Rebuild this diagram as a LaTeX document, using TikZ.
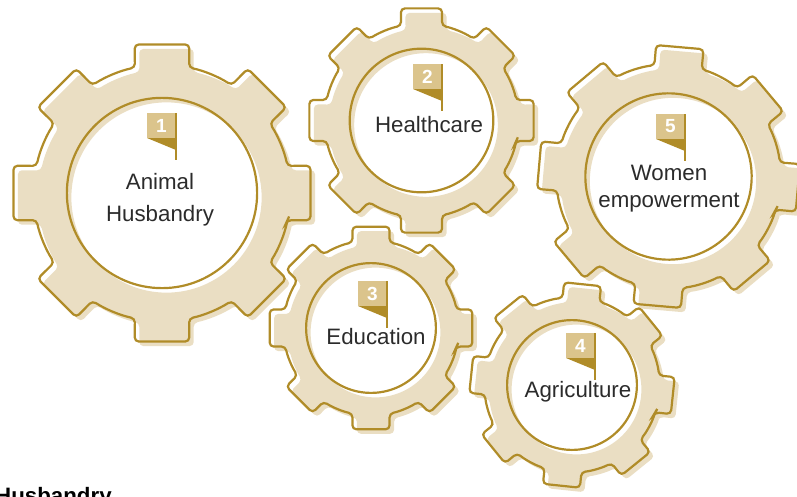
\documentclass[tikz,border=0pt]{standalone}
\usepackage{xcolor}
\usepackage{fontspec}
\setmainfont{Liberation Sans}
\usetikzlibrary{positioning}

\definecolor{gearbeige}{HTML}{EADEC3}
\definecolor{geargold}{HTML}{B08C28}
\definecolor{flaglight}{HTML}{DBC48C}
\definecolor{labelgray}{HTML}{2B2B2B}

\tikzset{
  gearline/.style={draw=geargold, line width=2.2pt, rounded corners=4pt},
  gearfill/.style={fill=gearbeige, even odd rule, rounded corners=4pt},
  gearlabel/.style={text=labelgray, font=\fontsize{22.3}{26}\selectfont, inner sep=0pt, anchor=base},
  flagnum/.style={text=white, font=\bfseries\fontsize{19}{20}\selectfont, inner sep=0pt},
}

% gear contour for tip radius 1
\newcommand\gearoutline{(-12.2:0.85)
  \foreach \k in {0,...,7}{
    -- ({\k*45-10.4}:1) -- ({\k*45+10.4}:1) -- ({\k*45+12.2}:0.85)
    arc[start angle={\k*45+12.2}, end angle={\k*45+32.8}, radius=0.85]
  } -- cycle}

% x, y (pixels, y down), tip radius, rotation
\newcommand\gearback[4]{%
  \begin{scope}[shift={({#1+4.5},{-#2-4.5})}, rotate=#4, scale=#3]
    \path[gearfill] \gearoutline (0,0) circle[radius=0.63];
  \end{scope}}
\newcommand\gearfront[4]{%
  \begin{scope}[shift={({#1},{-#2})}, rotate=#4, scale=#3]
    \draw[gearline] \gearoutline;
    \draw[gearline] (0,0) circle[radius=0.63];
  \end{scope}}

% top left corner x, y, number, node name
\newcommand\flag[4]{%
  \fill[flaglight] ({#1},{-#2}) rectangle ++(29,-25);
  \fill[geargold] ({#1},{-#2-25}) -- ++(29,0) -- ++(0,-12) -- cycle;
  \draw[geargold, line width=1.6pt] ({#1+29},{-#2}) -- ++(0,-47);
  \node[flagnum] (#4) at ({#1+14.5},{-#2-12.5}) {#3};}

\begin{document}
\begin{tikzpicture}[x=1pt, y=1pt]
  \useasboundingbox (0,0) rectangle (797,-496);

  % shadow fills
  \gearback{162}{193}{151}{0}
  \gearback{421.5}{120.5}{114}{0}
  \gearback{371}{328}{103}{0}
  \gearback{572}{385}{103}{-6}
  \gearback{668.5}{176.5}{132}{-5}

  % outlines
  \gearfront{162}{193}{151}{0}
  \gearfront{421.5}{120.5}{114}{0}
  \gearfront{371}{328}{103}{0}
  \gearfront{572}{385}{103}{-6}
  \gearfront{668.5}{176.5}{132}{-5}

  % flags
  \flag{147}{113}{1}{num1}
  \flag{413}{64}{2}{num2}
  \flag{358}{281}{3}{num3}
  \flag{566}{333}{4}{num4}
  \flag{656}{114}{5}{num5}

  % labels
  \node[gearlabel] (anim) at (160,-189) {Animal};
  \node[gearlabel] (husb) at ([yshift=-32pt]anim.base) {Husbandry};
  \node[gearlabel] (health) at (429,-132) {Healthcare};
  \node[gearlabel] (edu) at (376,-344) {Education};
  \node[gearlabel] (agri) at (578,-397) {Agriculture};
  \node[gearlabel] (women) at (669,-180) {Women};
  \node[gearlabel] (empow) at ([yshift=-27pt]women.base) {empowerment};

  % heading cut by the bottom edge
  \node[anchor=base west, inner sep=0pt, font=\bfseries\fontsize{22.3}{26}\selectfont] (cuthead) at (-5,-503) {Husbandry};
\end{tikzpicture}
\end{document}
